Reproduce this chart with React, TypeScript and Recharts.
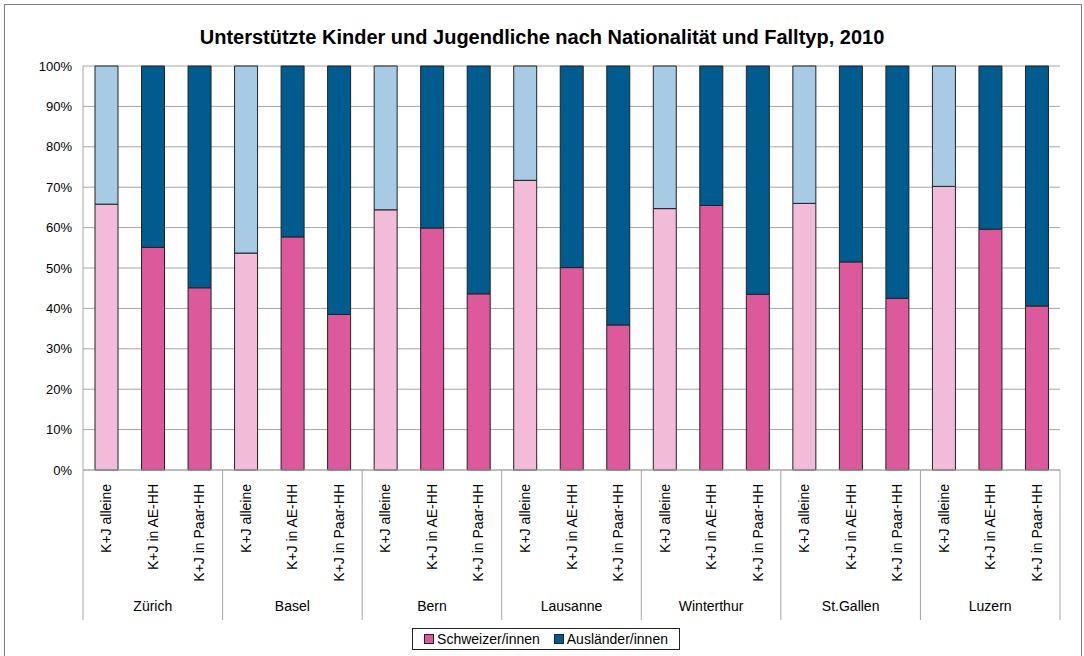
import React from "react";
import { Bar, BarChart, CartesianGrid, Cell, XAxis, YAxis } from "recharts";

const cities = ["Zürich", "Basel", "Bern", "Lausanne", "Winterthur", "St.Gallen", "Luzern"];
const types = ["K+J alleine", "K+J in AE-HH", "K+J in Paar-HH"];

// share of Swiss children per city, in the order of `types` (percent)
const schweizer = [
  [65.8, 55.1, 45.1],
  [53.7, 57.7, 38.5],
  [64.4, 59.9, 43.6],
  [71.7, 50.1, 35.9],
  [64.7, 65.5, 43.5],
  [66.0, 51.5, 42.5],
  [70.2, 59.6, 40.6],
];
const auslaender = [
  [34.2, 44.9, 54.9],
  [46.3, 42.3, 61.5],
  [35.6, 40.1, 56.4],
  [28.3, 49.9, 64.1],
  [35.3, 34.5, 56.5],
  [34.0, 48.5, 57.5],
  [29.8, 40.4, 59.4],
];
const yTicks = [0, 10, 20, 30, 40, 50, 60, 70, 80, 90, 100];

const W = 1084;
const H = 656;
const M = { top: 66, right: 24, left: 0, bottom: 34 };
const Y_W = 83;
const X_H = 152;
const BAND = (W - Y_W - M.right) / (cities.length * types.length);

const C_CH = "#DC5A9C";
const C_CH_LIGHT = "#F2BCD9";
const C_AU = "#005B8E";
const C_AU_LIGHT = "#A7CAE5";
const FONT = "'Liberation Sans', Arial, sans-serif";

const data = cities.flatMap((city, ci) =>
  types.map((t, ti) => ({
    key: `${city}-${t}`,
    city,
    type: t,
    alone: ti === 0,
    ch: schweizer[ci][ti],
    au: auslaender[ci][ti],
  }))
);

function CatTick(props: any) {
  const { x, y, index } = props;
  const d = data[index];
  if (!d) return null;
  const pos = index % types.length;
  return (
    <g>
      <text
        x={0}
        y={0}
        transform={`translate(${x + 5},${y + 14}) rotate(-90)`}
        textAnchor="end"
        fontSize={14}
        fontFamily={FONT}
        fill="#000"
      >
        {d.type}
      </text>
      {pos === 0 && (
        <line x1={x - BAND / 2} x2={x - BAND / 2} y1={y} y2={y + 150} stroke="#A6A6A6" />
      )}
      {index === data.length - 1 && (
        <line x1={x + BAND / 2} x2={x + BAND / 2} y1={y} y2={y + 150} stroke="#A6A6A6" />
      )}
      {pos === 1 && (
        <text x={x} y={y + 141} textAnchor="middle" fontSize={14} fontFamily={FONT} fill="#000">
          {d.city}
        </text>
      )}
    </g>
  );
}

function LegendBox() {
  const item = (color: string, label: string) => (
    <span style={{ display: "inline-flex", alignItems: "center", marginRight: 14 }}>
      <span
        style={{
          width: 8,
          height: 8,
          background: color,
          border: "1px solid #222",
          marginRight: 3,
        }}
      />
      {label}
    </span>
  );
  return (
    <div
      style={{
        position: "absolute",
        left: 412,
        top: 628,
        width: 268,
        height: 22,
        border: "1px solid #222",
        background: "#fff",
        fontFamily: FONT,
        fontSize: 14,
        display: "flex",
        alignItems: "center",
        justifyContent: "center",
        paddingLeft: 14,
        boxSizing: "border-box",
      }}
    >
      {item(C_CH, "Schweizer/innen")}
      {item(C_AU, "Ausländer/innen")}
    </div>
  );
}

export default function App() {
  return (
    <div style={{ position: "absolute", left: 0, top: 0, width: W, height: H, overflow: "hidden", background: "#fff" }}>
      <div
        style={{
          position: "absolute",
          left: 4,
          top: 4,
          width: 1076,
          height: 700,
          border: "1px solid #7F7F7F",
        }}
      />
      <div
        style={{
          position: "absolute",
          left: 0,
          top: 25,
          width: W,
          textAlign: "center",
          fontFamily: FONT,
          fontWeight: "bold",
          fontSize: 20,
          lineHeight: "24px",
        }}
      >
        Unterstützte Kinder und Jugendliche nach Nationalität und Falltyp, 2010
      </div>
      <div style={{ position: "absolute", left: 0, top: 0 }}>
        <BarChart width={W} height={H} data={data} margin={M} barSize={23}>
          <CartesianGrid vertical={false} stroke="#A6A6A6" />
          <XAxis
            dataKey="key"
            interval={0}
            height={X_H}
            tickLine={false}
            tickSize={0}
            tickMargin={0}
            axisLine={{ stroke: "#A6A6A6" }}
            tick={<CatTick />}
          />
          <YAxis
            width={Y_W}
            domain={[0, 100]}
            ticks={yTicks}
            tickFormatter={(v) => `${v}%`}
            tickLine={false}
            tickSize={0}
            tickMargin={11}
            axisLine={{ stroke: "#A6A6A6" }}
            tick={{ fontSize: 13, fill: "#000", fontFamily: FONT }}
          />
          <Bar dataKey="ch" stackId="a" stroke="#222" strokeWidth={1} isAnimationActive={false}>
            {data.map((d) => (
              <Cell key={d.key} fill={d.alone ? C_CH_LIGHT : C_CH} />
            ))}
          </Bar>
          <Bar dataKey="au" stackId="a" stroke="#222" strokeWidth={1} isAnimationActive={false}>
            {data.map((d) => (
              <Cell key={d.key} fill={d.alone ? C_AU_LIGHT : C_AU} />
            ))}
          </Bar>
        </BarChart>
      </div>
      <LegendBox />
    </div>
  );
}
